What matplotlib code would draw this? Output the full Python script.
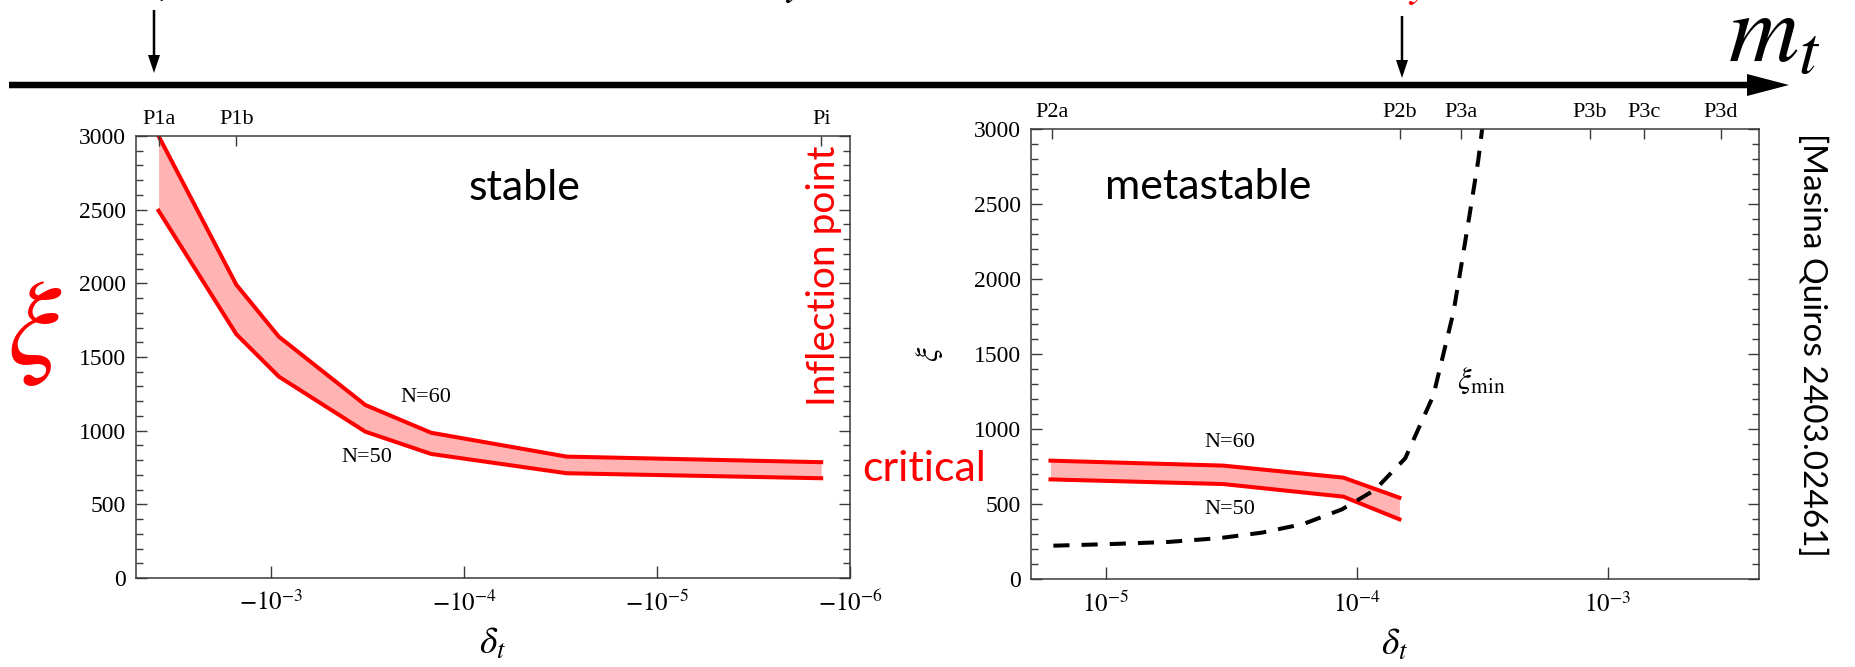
import numpy as np
import matplotlib
matplotlib.use("Agg")
import matplotlib.pyplot as plt
from matplotlib.ticker import MultipleLocator, NullLocator, FixedLocator
from matplotlib.patches import FancyArrow

plt.rcParams["font.family"] = ["Liberation Serif", "DejaVu Serif"]
plt.rcParams["mathtext.fontset"] = "stix"

W, H = 1856, 667
SANS = ["Lato", "DejaVu Sans"]

# ---- stable branch (delta_t < 0): xi band between N=50 and N=60 ----
delta_stable = np.array([-3.82e-3, -1.51e-3, -9.1e-4, -3.24e-4, -1.48e-4, -2.94e-5, -1.41e-6])
xi_stable_n60 = np.array([3000, 1990, 1638, 1174, 986, 824, 786])
xi_stable_n50 = np.array([2493, 1654, 1367, 993, 842, 711, 677])

# ---- metastable branch (delta_t > 0) ----
delta_meta = np.array([6.04e-6, 2.94e-5, 8.85e-5, 1.48e-4])
xi_meta_n60 = np.array([789, 756, 676, 542])
xi_meta_n50 = np.array([664, 633, 549, 398])

# lower bound xi_min
delta_ximin = np.array([6.2e-6, 1.05e-5, 1.78e-5, 2.86e-5, 4.19e-5, 6.14e-5, 8.73e-5,
                        1.18e-4, 1.56e-4, 2.02e-4, 2.21e-4, 2.43e-4, 2.62e-4, 2.83e-4,
                        3.05e-4, 3.16e-4])
xi_min = np.array([222, 233, 247, 273, 309, 367, 464, 593, 804, 1223, 1493, 1780, 2107,
                   2450, 2793, 3000])

# benchmark points on the top axes
bench_stable = ["P1a", "P1b", "Pi"]
bench_stable_delta = [-3.82e-3, -1.51e-3, -1.41e-6]
bench_meta = ["P2a", "P2b", "P3a", "P3b", "P3c", "P3d"]
bench_meta_delta = [6.15e-6, 1.49e-4, 2.61e-4, 8.49e-4, 1.40e-3, 2.82e-3]

# bottom axis decades
stable_ticks = [-1e-3, -1e-4, -1e-5, -1e-6]
stable_ticklabels = [r"$-10^{-3}$", r"$-10^{-4}$", r"$-10^{-5}$", r"$-10^{-6}$"]
meta_ticks = [1e-5, 1e-4, 1e-3]
meta_ticklabels = [r"$10^{-5}$", r"$10^{-4}$", r"$10^{-3}$"]

RED = "#ff0000"
BAND = "#ffb3b3"
SPINE = "#3a3a3a"

fig = plt.figure(figsize=(W / 100, H / 100), dpi=100)


def frame(x0, y0, x1, y1):
    return [x0 / W, 1 - y1 / H, (x1 - x0) / W, (y1 - y0) / H]


def style(ax, xlim, ticks, ticklabels, top_pos, top_labels):
    ax.set_xscale("log")
    ax.set_xlim(*xlim)
    ax.set_ylim(0, 3000)
    ax.xaxis.set_major_locator(FixedLocator(ticks))
    ax.xaxis.set_minor_locator(NullLocator())
    ax.set_xticklabels(ticklabels)
    ax.yaxis.set_major_locator(MultipleLocator(500))
    ax.yaxis.set_minor_locator(MultipleLocator(100))
    ax.tick_params(axis="y", which="both", direction="in", left=True, right=True,
                   color=SPINE, width=1.0, labelsize=17, pad=7)
    ax.tick_params(axis="y", which="major", length=8)
    ax.tick_params(axis="y", which="minor", length=5)
    ax.tick_params(axis="x", which="major", direction="in", top=False, length=9,
                   color=SPINE, width=1.0, labelsize=18, pad=9)
    for s in ax.spines.values():
        s.set_color(SPINE)
        s.set_linewidth(1.1)
    axt = ax.twiny()
    axt.set_xscale("log")
    axt.set_xlim(*xlim)
    axt.xaxis.set_major_locator(FixedLocator(top_pos))
    axt.xaxis.set_minor_locator(NullLocator())
    axt.set_xticklabels(top_labels)
    axt.tick_params(axis="x", direction="in", length=7, color=SPINE, width=1.0,
                    labelsize=16, pad=5)
    for s in axt.spines.values():
        s.set_visible(False)
    return axt


# ---------------- left panel: stable ----------------
ax1 = fig.add_axes(frame(136, 136, 850, 578))
x1 = -delta_stable
ax1.fill_between(x1, xi_stable_n50, xi_stable_n60, color=BAND, lw=0)
ax1.plot(x1, xi_stable_n60, color=RED, lw=2.9)
ax1.plot(x1, xi_stable_n50, color=RED, lw=2.9)
style(ax1, (5.0e-3, 1.0e-6), [-t for t in stable_ticks], stable_ticklabels,
      [-d for d in bench_stable_delta], bench_stable)
ax1.set_xlabel(r"$\delta_t$", fontsize=27, labelpad=8)
ax1.text(1.58e-4, 1222, "N=60", fontsize=16, ha="center", va="center")
ax1.text(3.17e-4, 821, "N=50", fontsize=16, ha="center", va="center")
ax1.text(4.86e-5, 2648, "stable", fontsize=31, family=SANS, ha="center", va="center")

# ---------------- right panel: metastable ----------------
ax2 = fig.add_axes(frame(1031, 129, 1759, 579))
ax2.fill_between(delta_meta, xi_meta_n50, xi_meta_n60, color=BAND, lw=0)
ax2.plot(delta_meta, xi_meta_n60, color=RED, lw=2.9)
ax2.plot(delta_meta, xi_meta_n50, color=RED, lw=2.9)
ax2.plot(delta_ximin, xi_min, color="black", lw=2.9, ls=(0, (4, 3)))
style(ax2, (5.05e-6, 4.0e-3), meta_ticks, meta_ticklabels, bench_meta_delta, bench_meta)
ax2.set_xlabel(r"$\delta_t$", fontsize=27, labelpad=8)
ax2.set_ylabel(r"$\xi$", fontsize=23)
ax2.yaxis.set_label_coords((945 - 1031) / 728, 0.5)
ax2.text(3.13e-5, 913, "N=60", fontsize=16, ha="center", va="center")
ax2.text(3.13e-5, 460, "N=50", fontsize=16, ha="center", va="center")
ax2.text(3.13e-4, 1320, r"$\xi_{\rm min}$", fontsize=22, ha="center", va="center")
ax2.text(2.56e-5, 2613, "metastable", fontsize=31, family=SANS, ha="center", va="center")

# ---------------- overlay: m_t axis, arrows and notes ----------------
ov = fig.add_axes([0, 0, 1, 1])
ov.set_xlim(0, W)
ov.set_ylim(H, 0)
ov.axis("off")
ov.add_patch(FancyArrow(9, 85, 1780, 0, width=6.5, head_width=22, head_length=42,
                        length_includes_head=True, color="black", lw=0))
ov.add_patch(FancyArrow(154, 10, 0, 63, width=2.5, head_width=12, head_length=18,
                        length_includes_head=True, color="black", lw=0))
ov.add_patch(FancyArrow(1402, 16, 0, 62, width=2.5, head_width=12, head_length=18,
                        length_includes_head=True, color="black", lw=0))
ov.text(1728, 62, r"$m_t$", fontsize=70, ha="left", va="baseline")

# descenders of the caption line running above the top edge
ov.text(166, -4, r"$y$", fontsize=16, ha="center", va="baseline")
ov.text(795, -6, r"$y$", fontsize=30, ha="center", va="baseline")
ov.text(1420, -5, r"$y$", fontsize=34, ha="center", va="baseline", color=RED)

ov.text(35, 334, r"$\xi$", fontsize=86, color=RED, ha="center", va="center")
ov.text(824, 276, "Inflection point", fontsize=28, family=SANS, color=RED,
        rotation=90, ha="center", va="center")
ov.text(924, 469, "critical", fontsize=31, family=SANS, color=RED,
        ha="center", va="center")
ov.text(1812, 345, "[Masina Quiros 2403.02461]", fontsize=24, family=SANS,
        rotation=270, ha="center", va="center")

fig.savefig("out.png", dpi=100)
